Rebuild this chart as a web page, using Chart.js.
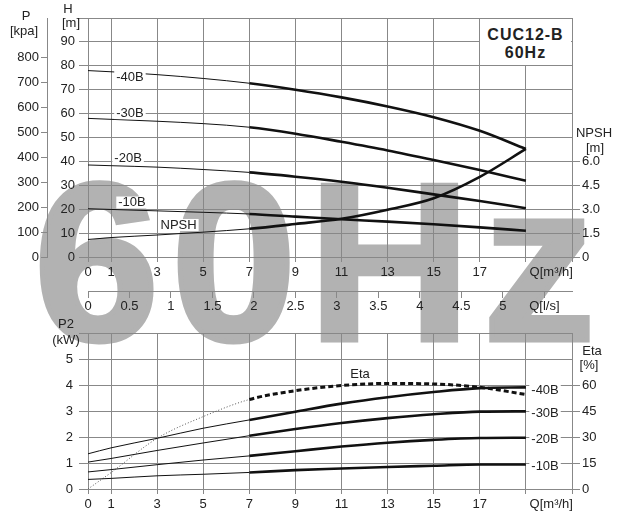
<!DOCTYPE html>
<html>
<head>
<meta charset="utf-8">
<script src="https://cdn.jsdelivr.net/npm/chart.js@4.4.0/dist/chart.umd.min.js"></script>
<style>
    body { margin: 0; background: #fff; }
    #wrap { position: relative; width: 620px; height: 523px; overflow: hidden; font-family: 'Liberation Sans', Arial, sans-serif; color: #222; }
    #mark { position: absolute; left: 34px; top: 150px; font-size: 225px; font-weight: bold; line-height: 1; letter-spacing: 12px; color: #b2b2b2; -webkit-text-stroke: 5px #b2b2b2; white-space: nowrap; z-index: 0; }
    canvas { position: absolute; left: 0; z-index: 1; }
    #topChart { top: 0; }
    #bottomChart { top: 320px; }
    .lbl { position: absolute; font-size: 13px; line-height: 13px; white-space: nowrap; transform: translate(-50%, -50%); z-index: 2; }
    #titleBox { position: absolute; left: 480px; top: 19px; width: 91px; height: 46px; background: #fff; z-index: 2; text-align: center; font-weight: bold; font-size: 16px; line-height: 18px; letter-spacing: 1px; padding-top: 7px; box-sizing: border-box; color: #222; }
</style>
</head>
<body>
<div id="wrap">
    <div id="mark">60Hz</div>
    <canvas id="topChart" width="620" height="330"></canvas>
    <canvas id="bottomChart" width="620" height="203"></canvas>
    <div id="titleBox">CUC12-B<br>60Hz</div>
    <div class="lbl" style="left:26px;top:15px">P</div>
    <div class="lbl" style="left:24px;top:30px">[kpa]</div>
    <div class="lbl" style="left:68px;top:8px">H</div>
    <div class="lbl" style="left:71px;top:22px">[m]</div>
    <div class="lbl" style="left:594px;top:132px">NPSH</div>
    <div class="lbl" style="left:595px;top:147px">[m]</div>
    <div class="lbl" style="left:66px;top:323px">P2</div>
    <div class="lbl" style="left:66px;top:339px">(kW)</div>
    <div class="lbl" style="left:592px;top:350px">Eta</div>
    <div class="lbl" style="left:589px;top:364px">[%]</div>
</div>
<script>
// flow points (m3/h)
const flowM3h = [0, 1, 3, 5, 7, 9, 11, 13, 15, 17, 19];

// head H [m]
const head40 = [78.0, 77.5, 76.3, 74.7, 72.7, 70.0, 66.8, 63.0, 58.5, 52.8, 45.2];
const head30 = [58.0, 57.6, 56.8, 55.8, 54.3, 51.6, 48.2, 44.6, 40.6, 36.4, 31.9];
const head20 = [38.5, 38.2, 37.6, 36.6, 35.4, 33.6, 31.5, 29.0, 26.2, 23.4, 20.4];
const head10 = [20.2, 19.9, 19.3, 18.7, 18.0, 16.9, 15.8, 14.8, 13.7, 12.4, 11.0];
// NPSH [m]
const npsh = [1.10, 1.22, 1.38, 1.56, 1.77, 2.07, 2.40, 2.97, 3.69, 5.03, 6.78];

// power P2 [kW]
const power40 = [1.36, 1.59, 1.96, 2.35, 2.67, 2.99, 3.30, 3.55, 3.75, 3.90, 3.93];
const power30 = [1.04, 1.18, 1.49, 1.78, 2.06, 2.32, 2.55, 2.74, 2.89, 2.99, 3.00];
const power20 = [0.66, 0.75, 0.94, 1.12, 1.28, 1.46, 1.64, 1.79, 1.90, 1.97, 1.98];
const power10 = [0.37, 0.41, 0.51, 0.57, 0.64, 0.73, 0.79, 0.85, 0.90, 0.95, 0.95];
// efficiency [%]
const eta = [0, 9.5, 29.4, 42.0, 51.9, 57.0, 60.0, 61.2, 60.9, 59.0, 54.8];

// tick labels
const flowTicks = [0, 1, 3, 5, 7, 9, 11, 13, 15, 17, 19, 21];
const flowUnitAt = 20.1;
const lsTicks = [0, 0.5, 1, 1.5, 2, 2.5, 3, 3.5, 4, 4.5, 5, 5.5];
const headTicks = [0, 10, 20, 30, 40, 50, 60, 70, 80, 90, 100];
const kpaTicks = [0, 100, 200, 300, 400, 500, 600, 700, 800];
const npshTicks = [0, 1.5, 3, 4.5, 6];
const powerTicks = [0, 1, 2, 3, 4, 5, 6];
const etaTicks = [0, 15, 30, 45, 60];

// curve names and where they sit (flow, axis value)
const headLabelSpots = [['-40B', 1.82, 75.3], ['-30B', 1.82, 60.2], ['-20B', 1.74, 41.2], ['-10B', 1.91, 22.8], ['NPSH', 3.93, 13.4]];
const powerLabelSpots = [['-40B', 19.83, 3.82], ['-30B', 19.83, 2.92], ['-20B', 19.83, 1.91], ['-10B', 19.83, 0.88], ['Eta', 11.8, 4.43]];

const gridColor = '#888';
const fontFamily = "'Liberation Sans', Arial, sans-serif";

Chart.defaults.font.family = fontFamily;
Chart.defaults.font.size = 13;
Chart.defaults.color = '#222';

function points(values) {
    return flowM3h.map((q, i) => ({ x: q, y: values[i] }));
}

function curve(values, axis) {
    return {
        data: points(values),
        yAxisID: axis,
        borderColor: '#111',
        borderWidth: 1,
        pointRadius: 0,
        cubicInterpolationMode: 'monotone',
        segment: {
            borderWidth: ctx => ctx.p0.parsed.x >= 7 ? 2.6 : 1
        }
    };
}

function setTicks(list) {
    return scale => { scale.ticks = list.map(v => ({ value: v })); };
}

const curveLabels = {
    id: 'curveLabels',
    afterDatasetsDraw(chart, args, opts) {
        const ctx = chart.ctx;
        const xs = chart.scales.x;
        const ys = chart.scales[opts.axis];
        ctx.save();
        ctx.font = '13px ' + fontFamily;
        ctx.textAlign = 'center';
        ctx.textBaseline = 'middle';
        opts.items.forEach(([text, q, v]) => {
            const px = xs.getPixelForValue(q);
            const py = ys.getPixelForValue(v);
            const w = ctx.measureText(text).width;
            ctx.fillStyle = '#fff';
            ctx.fillRect(px - w / 2 - 2, py - 6, w + 4, 12);
            ctx.fillStyle = '#222';
            ctx.fillText(text, px, py);
        });
        ctx.restore();
    }
};

function flowAxis() {
    return {
        type: 'linear',
        min: 0,
        max: 21,
        position: 'bottom',
        weight: 0,
        afterBuildTicks: setTicks(flowTicks.slice(0, 11).concat([flowUnitAt, 21])),
        afterFit: scale => { scale.height = 34; },
        ticks: {
            autoSkip: false,
            maxRotation: 0,
            padding: 3,
            callback: v => v === flowUnitAt ? 'Q[m³/h]' : (v >= 19 ? '' : v)
        },
        grid: {
            color: c => (c.tick && c.tick.value === flowUnitAt) ? 'rgba(0,0,0,0)' : gridColor,
            tickColor: c => (c.tick && c.tick.value === flowUnitAt) ? 'rgba(0,0,0,0)' : gridColor,
            tickLength: 5
        },
        border: { color: gridColor }
    };
}

new Chart(document.getElementById('topChart'), {
    type: 'line',
    data: {
        datasets: [
            curve(head40, 'y'),
            curve(head30, 'y'),
            curve(head20, 'y'),
            curve(head10, 'y'),
            curve(npsh, 'npsh')
        ]
    },
    options: {
        responsive: false,
        animation: false,
        layout: { padding: { top: 18, left: 0, right: 0, bottom: 0 } },
        plugins: {
            legend: { display: false },
            tooltip: { enabled: false },
            curveLabels: { axis: 'y', items: headLabelSpots }
        },
        scales: {
            x: flowAxis(),
            xls: {
                type: 'linear',
                min: 0,
                max: 21 / 3.6,
                position: 'bottom',
                weight: 1,
                afterBuildTicks: setTicks(lsTicks),
                afterFit: scale => { scale.height = 39; },
                ticks: {
                    autoSkip: false,
                    maxRotation: 0,
                    padding: 1,
                    callback: v => v === 5.5 ? 'Q[l/s]' : v
                },
                grid: { drawOnChartArea: false, tickLength: 7, color: gridColor },
                border: { color: gridColor }
            },
            y: {
                type: 'linear',
                min: 0,
                max: 100,
                position: 'left',
                weight: 0,
                afterBuildTicks: setTicks(headTicks),
                afterFit: scale => { scale.width = 41; },
                ticks: { padding: 4, callback: v => v === 100 ? '' : v },
                grid: { color: gridColor, tickLength: 9 },
                border: { color: gridColor }
            },
            kpa: {
                type: 'linear',
                min: 0,
                max: 956,
                position: 'left',
                weight: 1,
                afterBuildTicks: setTicks(kpaTicks),
                afterFit: scale => { scale.width = 47; },
                ticks: { padding: 2 },
                grid: { drawOnChartArea: false, color: gridColor, tickLength: 6 },
                border: { color: gridColor }
            },
            npsh: {
                type: 'linear',
                min: 0,
                max: 15,
                position: 'right',
                afterBuildTicks: setTicks(npshTicks),
                afterFit: scale => { scale.width = 48; },
                ticks: { padding: 2, callback: v => v === 0 ? '0' : v.toFixed(1) },
                grid: { drawOnChartArea: false, color: gridColor, tickLength: 8 },
                border: { color: gridColor }
            }
        }
    },
    plugins: [curveLabels]
});

const etaCurve = curve(eta, 'eta');
etaCurve.segment = {
    borderWidth: ctx => ctx.p0.parsed.x >= 7 ? 3 : 1,
    borderDash: ctx => ctx.p0.parsed.x >= 7 ? [5, 3] : [1, 2],
    borderColor: ctx => ctx.p0.parsed.x >= 7 ? '#111' : '#555'
};

new Chart(document.getElementById('bottomChart'), {
    type: 'line',
    data: {
        datasets: [
            curve(power40, 'y'),
            curve(power30, 'y'),
            curve(power20, 'y'),
            curve(power10, 'y'),
            etaCurve
        ]
    },
    options: {
        responsive: false,
        animation: false,
        layout: { padding: { top: 13, left: 0, right: 0, bottom: 0 } },
        plugins: {
            legend: { display: false },
            tooltip: { enabled: false },
            curveLabels: { axis: 'y', items: powerLabelSpots }
        },
        scales: {
            x: flowAxis(),
            y: {
                type: 'linear',
                min: 0,
                max: 6,
                position: 'left',
                afterBuildTicks: setTicks(powerTicks),
                afterFit: scale => { scale.width = 88; },
                ticks: { padding: 6, callback: v => v === 6 ? '' : v },
                grid: { color: gridColor, tickLength: 9 },
                border: { color: gridColor }
            },
            eta: {
                type: 'linear',
                min: 0,
                max: 90,
                position: 'right',
                afterBuildTicks: setTicks(etaTicks),
                afterFit: scale => { scale.width = 48; },
                ticks: { padding: 2 },
                grid: { drawOnChartArea: false, color: gridColor, tickLength: 8 },
                border: { color: gridColor }
            }
        }
    },
    plugins: [curveLabels]
});
</script>
</body>
</html>
